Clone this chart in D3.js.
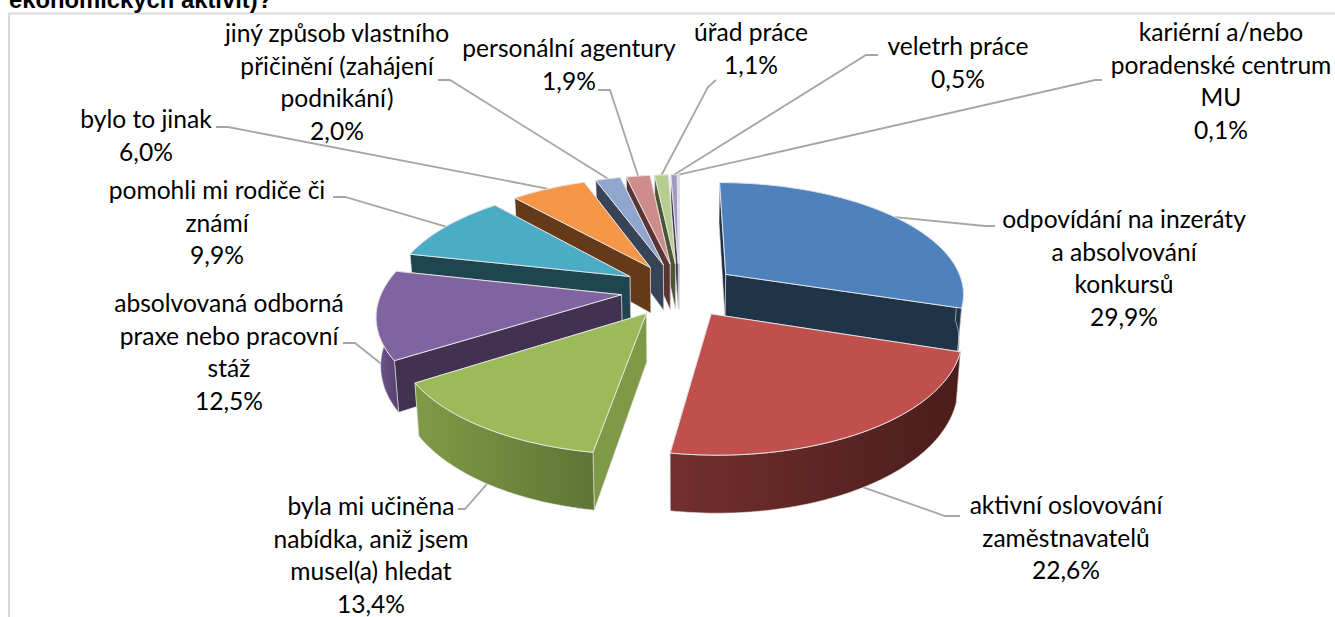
<!DOCTYPE html>
<html><head><meta charset="utf-8"><script src="https://cdn.jsdelivr.net/npm/d3@7"></script>
<style>html,body{margin:0;background:#fff;overflow:hidden}svg{display:block}</style></head>
<body><svg id="c" width="1335" height="617"></svg>
<script>
const categories = ["odpovídání na inzeráty a absolvování konkursů","aktivní oslovování zaměstnavatelů","byla mi učiněna nabídka, aniž jsem musel(a) hledat","absolvovaná odborná praxe nebo pracovní stáž","pomohli mi rodiče či známí","bylo to jinak","jiný způsob vlastního přičinění (zahájení podnikání)","personální agentury","úřad práce","veletrh práce","kariérní a/nebo poradenské centrum MU"];
const values = [29.9,22.6,13.4,12.5,9.9,6.0,2.0,1.9,1.1,0.5,0.1];
const valueLabels = values.map(v => v.toFixed(1).replace(".", ",") + "%");
const labelLines = [
 ["odpovídání na inzeráty","a absolvování","konkursů"],
 ["aktivní oslovování","zaměstnavatelů"],
 ["byla mi učiněna","nabídka, aniž jsem","musel(a) hledat"],
 ["absolvovaná odborná","praxe nebo pracovní","stáž"],
 ["pomohli mi rodiče či","známí"],
 ["bylo to jinak"],
 ["jiný způsob vlastního","přičinění (zahájení","podnikání)"],
 ["personální agentury"],
 ["úřad práce"],
 ["veletrh práce"],
 ["kariérní a/nebo","poradenské centrum","MU"]
];
const topColors = ["#4F81BD","#C0504D","#9BBB59","#8064A2","#4BACC6","#F79646","#8FA7CF","#CE8D8B","#B7CD90","#A497C6","#7FC7DA"];
const wallColors = ["#1F3349","#4F1F1E","#7F9A47","#423252","#1E4550","#653A19","#374357","#5A3433","#4B5635","#453D55","#34525A"];
const outerFrom = ["#1F3349","#722F2E","#7F9A47","#6F5790","#2a6373","#8a5026","#4a5a75","#7a4644","#66753f","#5d5373","#4a6f79"];
const outerTo = ["#1F3349","#4A1D1B","#5F7535","#5a4574","#1E4550","#653A19","#374357","#5A3433","#4B5635","#453D55","#34525A"];
// label layout: centre x, first line centre y, leader elbow and end
const labelX = [1124,1066,371,229,217,146,337,569,751,958,1221];
const labelY = [220,506,507,304,191,120,34,49,33,47,33];
const elbowA = [[985,226],[945,516],[465,509],[355,343],[345,197],[228,127],[450,80],[610,90],[708,87],[866,55],[1095,80]];
const elbowB = [[995,226],[960,516],[458,509],[343,343],[333,197],[216,127],[438,80],[598,90],[716,80],[878,55],[1102,80]];

const svg = d3.select("#c");
const defs = svg.append("defs");
svg.append("rect").attr("x",9).attr("y",13.5).attr("width",1340).attr("height",640).attr("fill","#fff").attr("stroke","#D9D9D9").attr("stroke-width",2);
svg.append("text").attr("x",9).attr("y",8).attr("font-family","Liberation Sans").attr("font-weight","bold").attr("font-size",23.8).attr("fill","#000").text("ekonomických aktivit)?");

const cx=679.5, cy=290, Rx=239, K=110.7, persp=0.157, explode=0.245, H=47, inward=0.985;
const slices = d3.pie().sort(null).value(d=>d).startAngle(0).endAngle(2*Math.PI)(values);
const proj = (X,V,bottom) => {
  const s = 1/(1-persp*V);
  let x = cx + Rx*X*s, y = cy + K*V*s;
  if (bottom) { x = cx + (x-cx)*inward; y += H*s; }
  return [x,y];
};
const path = d3.line();
slices.forEach((sl,i)=>{
  const mid=(sl.startAngle+sl.endAngle)/2;
  sl.ox=explode*Math.sin(mid); sl.oy=-explode*Math.cos(mid); sl.mid=mid; sl.i=i;
  sl.rim=(a,b)=>proj(sl.ox+Math.sin(a),sl.oy-Math.cos(a),b);
  sl.apex=b=>proj(sl.ox,sl.oy,b);
  sl.arc=(a0,a1,b)=>{const n=Math.max(2,Math.ceil((a1-a0)/0.02));return d3.range(n+1).map(k=>sl.rim(a0+(a1-a0)*k/n,b));};
});
const edge="#E4E4E4";
const drawOrder=[10,9,8,7,6,5,4,3,0,2,1];
// leaders sit behind the pie
slices.forEach((sl,i)=>{
  const p=sl.rim(sl.mid,false);
  const a=(i===1||i===2||i===3)?sl.rim(sl.mid,true):p;
  svg.append("path").attr("d",path([a,elbowA[i],elbowB[i]])).attr("fill","none").attr("stroke","#A6A6A6").attr("stroke-width",1.8);
});
drawOrder.forEach(i=>{
  const sl=slices[i], g=svg.append("g");
  const a0=sl.startAngle,a1=sl.endAngle;
  const wall=a=>[sl.apex(false),sl.rim(a,false),sl.rim(a,true),sl.apex(true)];
  const cosA0=-Math.cos(a0), cosA1=-Math.cos(a1);
  const walls=cosA0<cosA1?[a0,a1]:[a1,a0];
  walls.forEach(a=>g.append("path").attr("d",path(wall(a))+"Z").attr("fill",wallColors[i]).attr("stroke",edge).attr("stroke-width",.6));
  const lo=Math.max(a0,Math.PI/2), hi=Math.min(a1,3*Math.PI/2);
  if(hi>lo){
    const top=sl.arc(lo,hi,false), bot=sl.arc(lo,hi,true).reverse();
    const id="o"+i;
    const xs=top.map(d=>d[0]);
    const gr=defs.append("linearGradient").attr("id",id).attr("gradientUnits","userSpaceOnUse")
      .attr("x1",d3.min(xs)).attr("x2",d3.max(xs)).attr("y1",0).attr("y2",0);
    gr.append("stop").attr("offset","0").attr("stop-color",outerFrom[i]);
    gr.append("stop").attr("offset","1").attr("stop-color",outerTo[i]);
    g.append("path").attr("d",path(top.concat(bot))+"Z").attr("fill",`url(#${id})`).attr("stroke",edge).attr("stroke-width",.6);
  }
  const pts=[sl.apex(false)].concat(sl.arc(a0,a1,false));
  g.append("path").attr("d",path(pts)+"Z").attr("fill",topColors[i]).attr("stroke",edge).attr("stroke-width",1);
});
// labels
const lh=32.6;
slices.forEach((sl,i)=>{
  const lines=labelLines[i].concat(valueLabels[i]);
  const t=svg.append("text").attr("text-anchor","middle").attr("font-family","Lato").attr("font-size",24.6).attr("fill","#000");
  lines.forEach((l,k)=>t.append("tspan").attr("x",labelX[i]).attr("y",labelY[i]+k*lh+8).text(l));
});
</script></body></html>
